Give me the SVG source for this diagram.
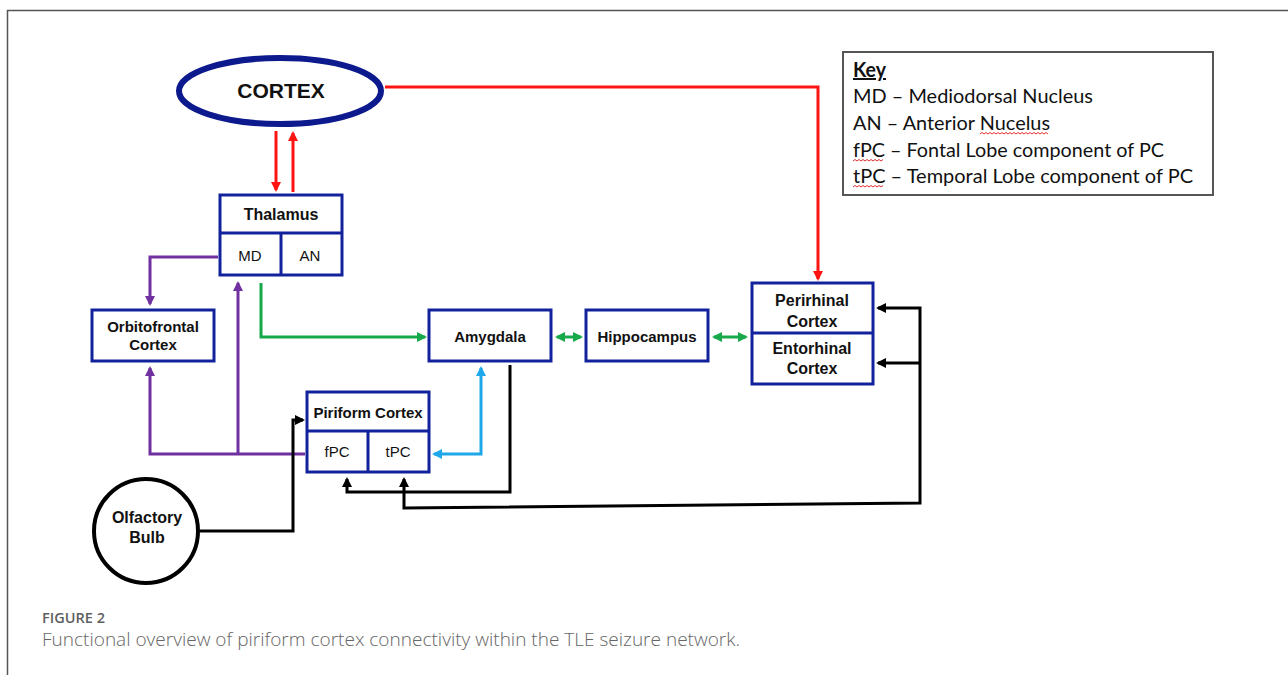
<svg xmlns="http://www.w3.org/2000/svg" width="1288" height="675" viewBox="0 0 1288 675">
<style>
.box{fill:#fff;stroke:#12229c;stroke-width:3}
.div{stroke:#12229c;stroke-width:3;fill:none}
.lbl{font-family:"Liberation Sans",Arial,sans-serif;font-weight:bold;fill:#111;text-anchor:middle}
.sub{font-family:"Liberation Sans",Arial,sans-serif;fill:#111;text-anchor:middle;font-size:15px}
.key{font-family:Lato,"Liberation Sans",sans-serif;font-size:20px;fill:#111}
.c{fill:none;stroke-width:3;stroke-linejoin:miter}
.red{stroke:#ff1414}
.grn{stroke:#17a84a}
.pur{stroke:#7030a0}
.cya{stroke:#1ea8ea}
.blk{stroke:#000}
.sq{fill:none;stroke:#e03030;stroke-width:1}
</style>
<defs>
<marker id="aR" viewBox="0 0 10 10" refX="8" refY="5" markerWidth="12" markerHeight="10" markerUnits="userSpaceOnUse" orient="auto-start-reverse"><path d="M0,0 L10,5 L0,10 z" fill="#ff1414"/></marker>
<marker id="aG" viewBox="0 0 10 10" refX="8" refY="5" markerWidth="12" markerHeight="10" markerUnits="userSpaceOnUse" orient="auto-start-reverse"><path d="M0,0 L10,5 L0,10 z" fill="#17a84a"/></marker>
<marker id="aP" viewBox="0 0 10 10" refX="8" refY="5" markerWidth="12" markerHeight="10" markerUnits="userSpaceOnUse" orient="auto-start-reverse"><path d="M0,0 L10,5 L0,10 z" fill="#7030a0"/></marker>
<marker id="aC" viewBox="0 0 10 10" refX="8" refY="5" markerWidth="12" markerHeight="10" markerUnits="userSpaceOnUse" orient="auto-start-reverse"><path d="M0,0 L10,5 L0,10 z" fill="#1ea8ea"/></marker>
<marker id="aK" viewBox="0 0 10 10" refX="8" refY="5" markerWidth="12" markerHeight="10" markerUnits="userSpaceOnUse" orient="auto-start-reverse"><path d="M0,0 L10,5 L0,10 z" fill="#000"/></marker>
</defs>
<rect width="1288" height="675" fill="#fff"/>
<path d="M7.5,675 V10.5 H1288" fill="none" stroke="#555" stroke-width="1.5"/>

<g id="connectors">
<path class="c red" d="M385,87 H818 V279" marker-end="url(#aR)"/>
<path class="c red" d="M276,131 V190" marker-end="url(#aR)"/>
<path class="c red" d="M293,192 V133" marker-end="url(#aR)"/>
<path class="c pur" d="M218,257 H150 V304" marker-end="url(#aP)"/>
<path class="c pur" d="M305,454 H150 V368" marker-end="url(#aP)"/>
<path class="c pur" d="M238,454 V283" marker-end="url(#aP)"/>
<path class="c grn" d="M261,283 V337 H425" marker-end="url(#aG)"/>
<path class="c grn" d="M557,337 H581" marker-start="url(#aG)" marker-end="url(#aG)"/>
<path class="c grn" d="M714,337 H746" marker-start="url(#aG)" marker-end="url(#aG)"/>
<path class="c cya" d="M434,454 H481 V368" marker-start="url(#aC)" marker-end="url(#aC)"/>
<path class="c blk" d="M200,531 H293 V420 H303" marker-end="url(#aK)"/>
<path class="c blk" d="M510,365 V492 H347 V479" marker-end="url(#aK)"/>
<path class="c blk" d="M878,308 H920 V503 L404,508 V479" marker-start="url(#aK)" marker-end="url(#aK)"/>
<path class="c blk" d="M920,363 H878" marker-end="url(#aK)"/>
</g>

<g id="cortex">
<ellipse cx="280" cy="91" rx="101" ry="33" fill="#fff" stroke="#0c1a8e" stroke-width="6"/>
<text class="lbl" x="281" y="98" font-size="21">CORTEX</text>
</g>

<g id="thalamus">
<rect class="box" x="220" y="195" width="122" height="80"/>
<path class="div" d="M220,233 H342 M281,233 V275"/>
<text class="lbl" x="281" y="220" font-size="16">Thalamus</text>
<text class="sub" x="250" y="261">MD</text>
<text class="sub" x="310" y="261">AN</text>
</g>

<g id="orbitofrontal">
<rect class="box" x="92" y="310" width="122" height="51"/>
<text class="lbl" x="153" y="332" font-size="15">Orbitofrontal</text>
<text class="lbl" x="153" y="350" font-size="15">Cortex</text>
</g>

<g id="amygdala">
<rect class="box" x="429" y="310" width="122" height="51"/>
<text class="lbl" x="490" y="342" font-size="15">Amygdala</text>
</g>

<g id="hippocampus">
<rect class="box" x="586" y="310" width="122" height="51"/>
<text class="lbl" x="647" y="342" font-size="15">Hippocampus</text>
</g>

<g id="rhinal">
<rect class="box" x="752" y="283" width="121" height="101"/>
<path class="div" d="M752,333 H873"/>
<text class="lbl" x="812" y="306" font-size="16">Perirhinal</text>
<text class="lbl" x="812" y="327" font-size="16">Cortex</text>
<text class="lbl" x="812" y="354" font-size="16">Entorhinal</text>
<text class="lbl" x="812" y="374" font-size="16">Cortex</text>
</g>

<g id="piriform">
<rect class="box" x="307" y="392" width="122" height="80"/>
<path class="div" d="M307,431 H429 M368,431 V472"/>
<text class="lbl" x="368" y="418" font-size="15">Piriform Cortex</text>
<text class="sub" x="337" y="457">fPC</text>
<text class="sub" x="398" y="457">tPC</text>
</g>

<g id="olfactory">
<circle cx="146" cy="531" r="52" fill="#fff" stroke="#000" stroke-width="4"/>
<text class="lbl" x="147" y="523" font-size="16">Olfactory</text>
<text class="lbl" x="147" y="543" font-size="16">Bulb</text>
</g>

<g id="key">
<rect x="843" y="52" width="370" height="143" fill="#fff" stroke="#555" stroke-width="2"/>
<text class="key" x="853" y="77" font-weight="bold" text-decoration="underline" textLength="33" lengthAdjust="spacingAndGlyphs">Key</text>
<text class="key" x="853" y="103" textLength="240" lengthAdjust="spacingAndGlyphs">MD – Mediodorsal Nucleus</text>
<text class="key" x="853" y="130" textLength="197" lengthAdjust="spacingAndGlyphs">AN – Anterior Nucelus</text>
<text class="key" x="853" y="157" textLength="311" lengthAdjust="spacingAndGlyphs">fPC – Fontal Lobe component of PC</text>
<text class="key" x="853" y="183" textLength="340" lengthAdjust="spacingAndGlyphs">tPC – Temporal Lobe component of PC</text>
<path class="sq" d="M980,134 l2,-1.5 l2,1.5 l2,-1.5 l2,1.5 l2,-1.5 l2,1.5 l2,-1.5 l2,1.5 l2,-1.5 l2,1.5 l2,-1.5 l2,1.5 l2,-1.5 l2,1.5 l2,-1.5 l2,1.5 l2,-1.5 l2,1.5 l2,-1.5 l2,1.5 l2,-1.5 l2,1.5 l2,-1.5 l2,1.5 l2,-1.5 l2,1.5 l2,-1.5 l2,1.5 l2,-1.5 l2,1.5 l2,-1.5 l2,1.5 l2,-1.5 l2,1.5"/>
<path class="sq" d="M853,161 l2,-1.5 l2,1.5 l2,-1.5 l2,1.5 l2,-1.5 l2,1.5 l2,-1.5 l2,1.5 l2,-1.5 l2,1.5 l2,-1.5 l2,1.5 l2,-1.5 l2,1.5 l2,-1.5"/>
<path class="sq" d="M853,187 l2,-1.5 l2,1.5 l2,-1.5 l2,1.5 l2,-1.5 l2,1.5 l2,-1.5 l2,1.5 l2,-1.5 l2,1.5 l2,-1.5 l2,1.5 l2,-1.5 l2,1.5 l2,-1.5"/>
</g>

<g id="caption">
<text x="42" y="623" font-family="'Open Sans','Liberation Sans',sans-serif" font-size="14" font-weight="600" fill="#5f5f5f" textLength="63" lengthAdjust="spacingAndGlyphs">FIGURE 2</text>
<text x="42" y="646" font-family="'Open Sans','Liberation Sans',sans-serif" font-size="17.5" font-weight="300" fill="#666" textLength="698" lengthAdjust="spacingAndGlyphs">Functional overview of piriform cortex connectivity within the TLE seizure network.</text>
</g>
</svg>
